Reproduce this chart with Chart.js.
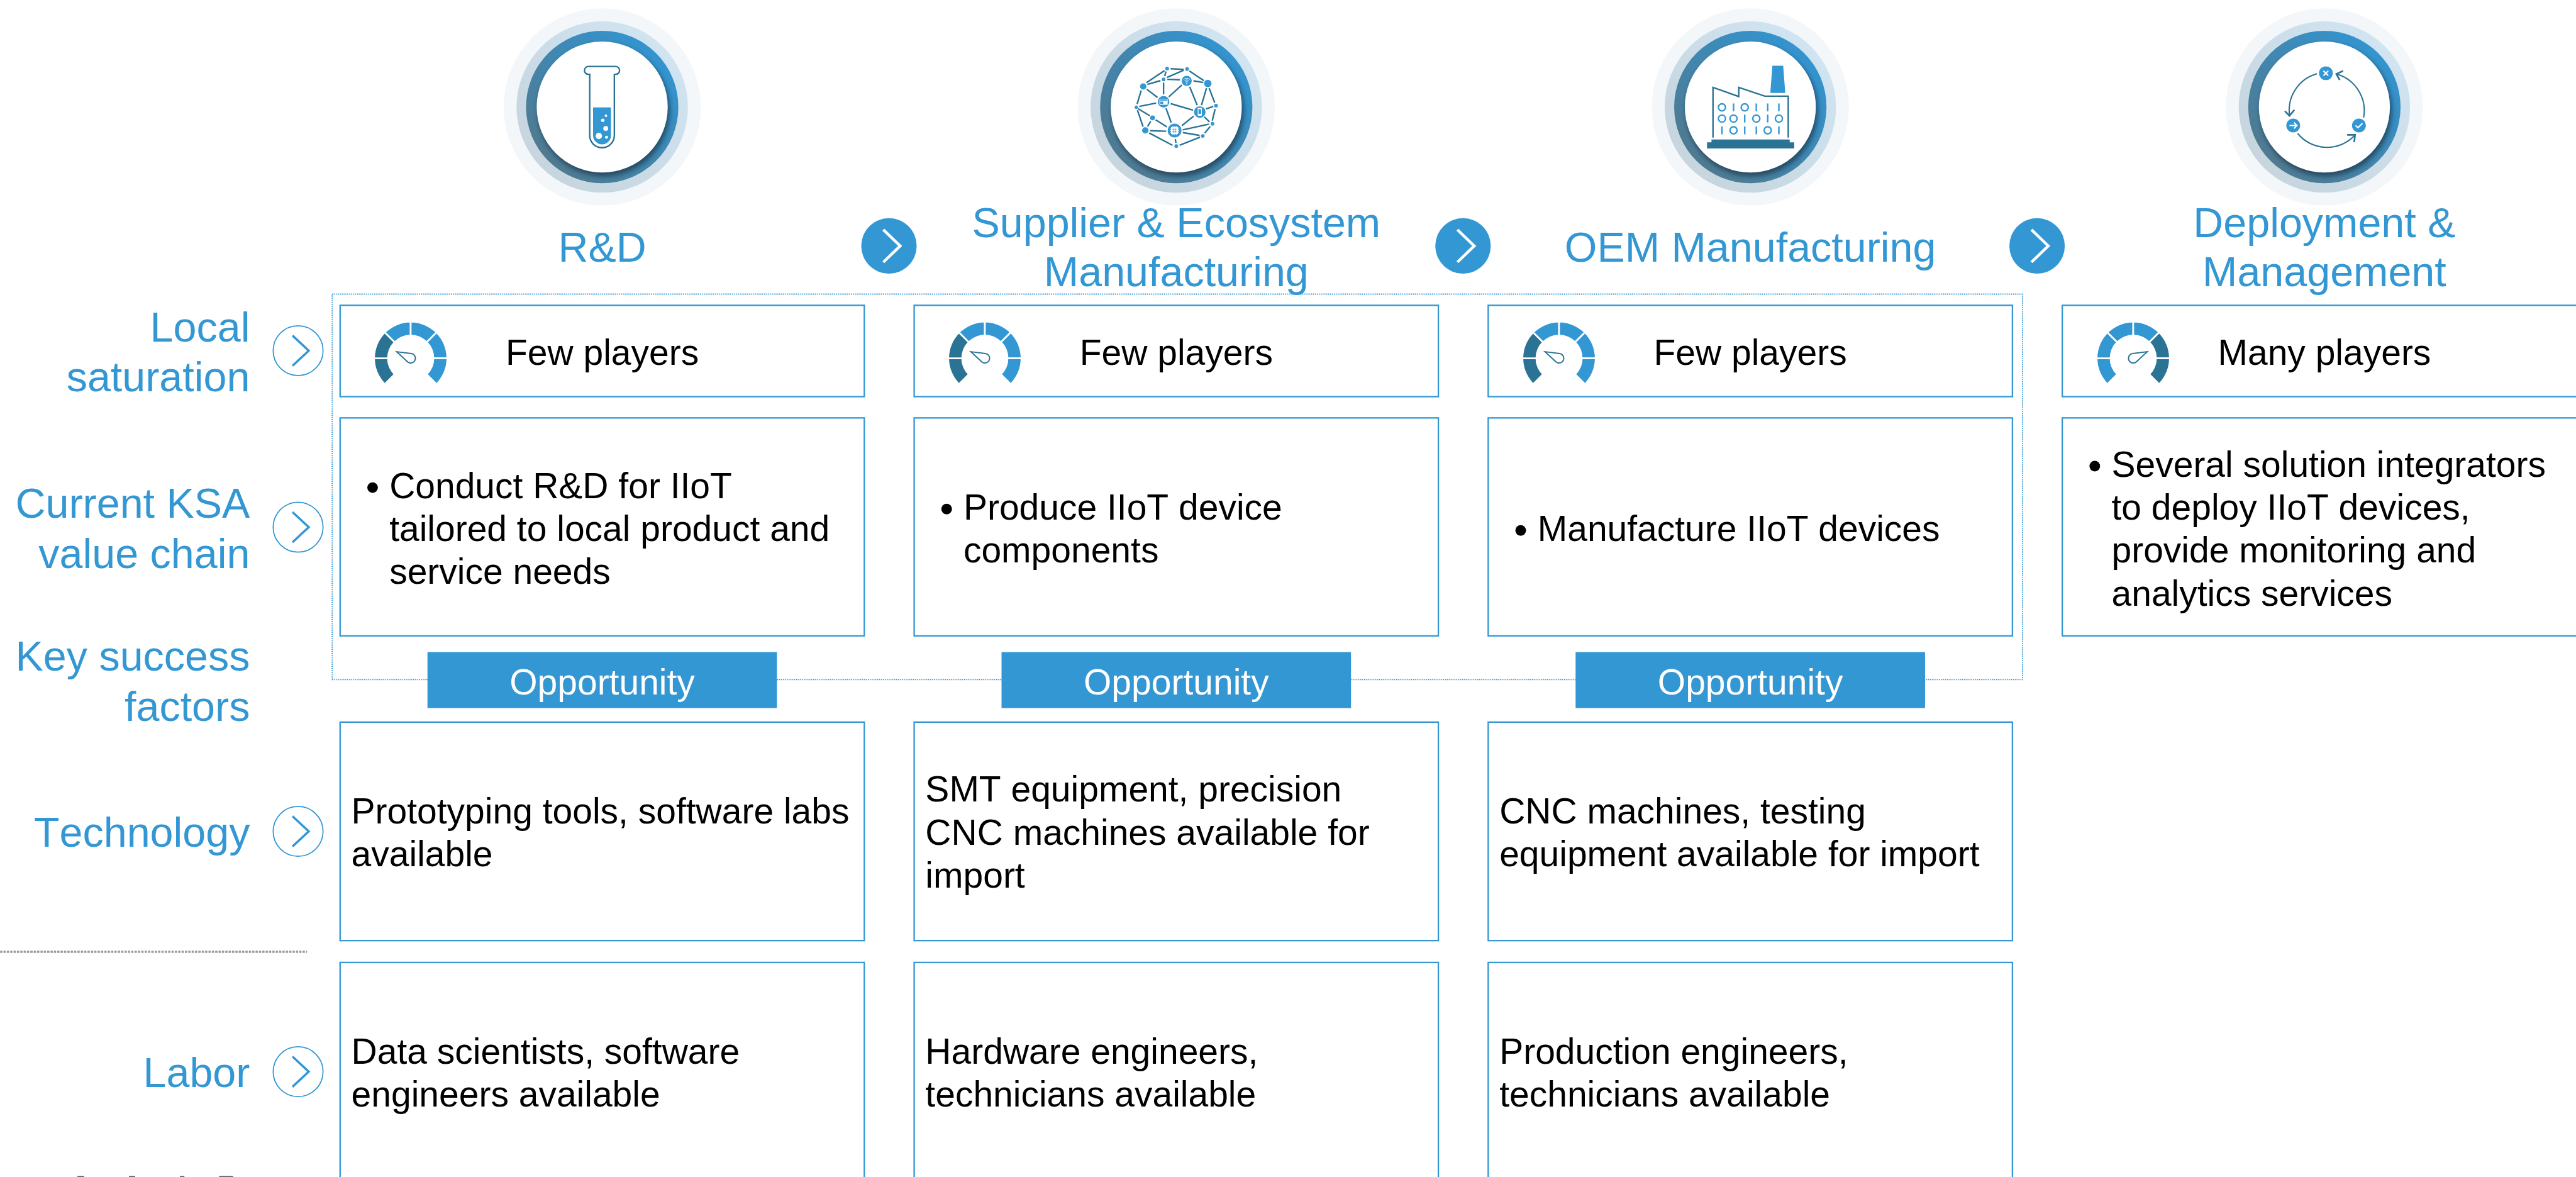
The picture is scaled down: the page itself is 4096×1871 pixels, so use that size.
<!DOCTYPE html>
<html>
<head>
<meta charset="utf-8">
<title>IIoT value chain</title>
<script src="https://cdn.jsdelivr.net/npm/chart.js@4/dist/chart.umd.min.js"></script>
<style>
html, body { margin: 0; padding: 0; background: #fff; overflow: hidden; }
#stage { position: relative; width: 4096px; height: 1871px; overflow: hidden; }
#art { position: absolute; left: 0; top: 0; }
canvas { position: absolute; }
text { font-family: "Liberation Sans", Arial, sans-serif; font-kerning: none; }
</style>
</head>
<body>
<div id="stage">
<svg id="art" width="4096" height="1871" viewBox="0 0 4599 2101" xmlns="http://www.w3.org/2000/svg"></svg>
</div>
<script>
// data
const stages = [['R&D'], ['Supplier & Ecosystem', 'Manufacturing'], ['OEM Manufacturing'], ['Deployment &', 'Management']];
const saturation = ['Few players', 'Few players', 'Few players', 'Many players'];
const gaugeSegments = [1, 1, 1, 1, 1, 1];
const gaugeDark = [[0, 1], [0, 1], [0, 1], [4, 5]];
const valueChain = [
    ['Conduct R&D for IIoT', 'tailored to local product and', 'service needs'],
    ['Produce IIoT device', 'components'],
    ['Manufacture IIoT devices'],
    ['Several solution integrators', 'to deploy IIoT devices,', 'provide monitoring and', 'analytics services']
];
const technology = [
    ['Prototyping tools, software labs', 'available'],
    ['SMT equipment, precision', 'CNC machines available for', 'import'],
    ['CNC machines, testing', 'equipment available for import']
];
const labor = [
    ['Data scientists, software', 'engineers available'],
    ['Hardware engineers,', 'technicians available'],
    ['Production engineers,', 'technicians available']
];
const rowLabels = [
    { lines: ['Local', 'saturation'], arrow: true, y: 626 },
    { lines: ['Current KSA', 'value chain'], arrow: true, y: 941 },
    { lines: ['Key success', 'factors'], arrow: false, y: 1214 },
    { lines: ['Technology'], arrow: true, y: 1484 },
    { lines: ['Labor'], arrow: true, y: 1913 }
];

const S = 4096 / 4599;
const BLUE = '#3397d4';
const DARK = '#2a7394';
const colLeft = [607, 1632, 2657, 3682];
const colCenter = colLeft.map(x => x + 468);
const boxW = 936;
const art = document.getElementById('art');
let svg = '';

function label(str, x, y, size, color, anchor) {
    const safe = str.replace(/&/g, '&amp;');
    svg += `<text x="${x}" y="${y}" font-size="${size}" fill="${color}" text-anchor="${anchor}">${safe}</text>`;
}

function box(x, y, w, h) {
    svg += `<rect x="${x}" y="${y}" width="${w}" height="${h}" fill="#fff" stroke="${BLUE}" stroke-width="2.6"/>`;
}

function block(lines, x, cy, anchor) {
    lines.forEach((l, i) => {
        label(l, x, cy + 24 + (i - (lines.length - 1) / 2) * 77, 64, '#000', anchor);
    });
}

function chevronCircle(cx, cy) {
    svg += `<circle cx="${cx}" cy="${cy}" r="44.5" fill="#fff" stroke="${BLUE}" stroke-width="2"/>`;
    svg += `<path d="M${cx - 10} ${cy - 27}L${cx + 19} ${cy}L${cx - 10} ${cy + 27}" fill="none" stroke="${BLUE}" stroke-width="4"/>`;
}

// icons use the coordinates of a 3x crop of the source, hence the scale
function icon(cropX, body) {
    svg += `<g transform="translate(${cropX} 0) scale(0.33333)">${body}</g>`;
}

function tubeIcon() {
    return `<g fill="none" stroke="${DARK}" stroke-width="8">
        <path d="M582 398H571a21 21 0 0 1 0-42H717a21 21 0 0 1 0 42H712"/>
        <path d="M578 396V725a66 66 0 0 0 132 0V396"/></g>
        <path d="M596 575H692V725a48 48 0 0 1-96 0Z" fill="${BLUE}"/>
        <g fill="#fff"><circle cx="665" cy="620" r="7"/><circle cx="648" cy="644" r="9"/><circle cx="664" cy="688" r="13"/><circle cx="627" cy="728" r="17"/><circle cx="668" cy="735" r="8"/></g>`;
}

function networkIcon() {
    const links = [[630,368,700,372],[700,376,610,415],[597,378,500,443],[605,383,598,408],[575,432,505,452],[612,425,680,427],
        [730,380,808,432],[752,433,805,442],[592,442,592,505],[502,478,560,522],[472,485,450,558],[462,570,552,552],
        [690,455,620,518],[732,465,772,563],[822,472,795,563],[836,472,866,550],[630,555,750,590],[605,580,633,657],
        [820,583,858,570],[868,584,853,646],[810,625,838,653],[753,622,690,673],[455,582,518,620],[452,590,482,678],
        [523,650,506,678],[550,642,610,680],[520,700,606,703],[695,695,835,665],[695,710,785,725],[842,677,812,713],
        [655,745,658,765],[515,712,640,778],[678,778,787,735]];
    const nodes = [[611,367,10],[718,370,10],[592,425,10],[716,433,27],[829,447,20],[483,463,17],[592,545,31],[446,574,9],
        [873,566,10],[786,600,31],[533,631,13],[854,663,10],[651,699,37],[494,698,17],[802,728,10],[660,782,10]];
    let out = `<path d="${links.map(l => `M${l[0]} ${l[1]}L${l[2]} ${l[3]}`).join('')}" stroke="${DARK}" stroke-width="8" fill="none"/>`;
    out += nodes.map(n => `<circle cx="${n[0]}" cy="${n[1]}" r="${n[2]}" fill="${BLUE}"/>`).join('');
    // little glyphs inside the big nodes
    out += `<rect x="632" y="680" width="38" height="38" rx="3" fill="#fff"/><rect x="640" y="688" width="22" height="22" fill="${BLUE}"/>
        <path d="M626 690H676M626 699H676M626 708H676M642 674V724M651 674V724M660 674V724" stroke="#fff" stroke-width="2.5"/>
        <rect x="775" y="578" width="22" height="42" rx="4" fill="#fff"/><rect x="779" y="584" width="14" height="26" fill="${BLUE}"/>
        <rect x="570" y="531" width="44" height="30" rx="3" fill="#fff"/><rect x="572" y="533" width="40" height="6" fill="${BLUE}"/>
        <path d="M574 544H590V556H574Z" fill="${BLUE}"/>
        <g fill="none" stroke="#fff" stroke-width="3"><path d="M699 426a24 24 0 0 1 34 0M704 433a16 16 0 0 1 24 0M709 440a9 9 0 0 1 14 0"/></g>
        <circle cx="716" cy="446" r="3" fill="#fff"/>`;
    return out;
}

function factoryIcon() {
    const bits = [[0, 1, 0, 1, 1, 1], [0, 0, 1, 0, 1, 0], [1, 0, 1, 1, 0, 1]];
    const rows = [575, 635, 698];
    const cols = [463, 525, 585, 647, 708, 768];
    let out = `<path d="M415 737V468L553 517V468L693 515H818V737" fill="none" stroke="${DARK}" stroke-width="8"/>
        <path d="M733 352H791L802 498H722Z" fill="${BLUE}"/>
        <path d="M407 747H826V762H850V795H383V762H407Z" fill="${DARK}"/>`;
    bits.forEach((row, r) => row.forEach((b, c) => {
        if (b) out += `<path d="M${cols[c]} ${rows[r] - 21}V${rows[r] + 21}" stroke="${BLUE}" stroke-width="8"/>`;
        else out += `<circle cx="${cols[c]}" cy="${rows[r]}" r="19" fill="none" stroke="${BLUE}" stroke-width="8"/>`;
    }));
    return out;
}

function cycleIcon() {
    return `<g fill="none" stroke="${DARK}" stroke-width="7">
        <path d="M590 395A203 203 0 0 0 443 615"/>
        <path d="M418 595L443 620L469 588" stroke-width="9"/>
        <path d="M840 630A203 203 0 0 0 695 397"/>
        <path d="M730 380L694 396L712 428" stroke-width="9"/>
        <path d="M487 715A203 203 0 0 0 792 725"/>
        <path d="M752 722L794 722L790 762" stroke-width="9"/></g>
        <g fill="${BLUE}"><circle cx="638" cy="392" r="37"/><circle cx="463" cy="672" r="37"/><circle cx="815" cy="672" r="37"/></g>
        <g fill="none" stroke="#fff" stroke-width="7"><path d="M625 379L651 405M651 379L625 405"/>
        <path d="M443 672H483M467 656L483 672L467 688"/>
        <path d="M797 672L810 684L834 660"/></g>`;
}

svg += `<defs>
<linearGradient id="ring2" x1="0.85" y1="0.15" x2="0.15" y2="0.85"><stop offset="0" stop-color="#d0e4f1"/><stop offset="1" stop-color="#c6d5de"/></linearGradient>
<linearGradient id="ring3" x1="0.85" y1="0.15" x2="0.15" y2="0.85"><stop offset="0" stop-color="#3394cf"/><stop offset="1" stop-color="#4f7a91"/></linearGradient>
<filter id="soft" x="-20%" y="-20%" width="140%" height="140%"><feGaussianBlur stdDeviation="4"/></filter>
</defs>`;

// dotted frame round the first two rows, dotted divider on the left
svg += `<rect x="593" y="525" width="3018" height="688" fill="none" stroke="${BLUE}" stroke-width="2.2" stroke-dasharray="1.684 1.684"/>`;
svg += `<path d="M0 1699H548" stroke="#9a9a9a" stroke-width="4" stroke-dasharray="4 2"/>`;
// tops of a row label that the source cuts off at its bottom edge
svg += `<path d="M138 2099h12v2h-12zM230 2099h11v2h-11zM321 2099h8v2h-8zM391 2099h25v2h-25z" fill="#666"/>`;

// header rings and icons
const icons = [[860, tubeIcon], [1880, networkIcon], [2920, factoryIcon], [3940, cycleIcon]];
colCenter.forEach((cx, i) => {
    const cy = 191;
    svg += `<circle cx="${cx}" cy="${cy}" r="176" fill="#f3f7fa"/>`;
    svg += `<circle cx="${cx}" cy="${cy}" r="153" fill="url(#ring2)"/>`;
    svg += `<circle cx="${cx}" cy="${cy}" r="136" fill="url(#ring3)"/>`;
    svg += `<circle cx="${cx + 3}" cy="${cy + 6}" r="118" fill="#123" opacity="0.55" filter="url(#soft)"/>`;
    svg += `<circle cx="${cx}" cy="${cy}" r="117" fill="#fff"/>`;
    icon(icons[i][0], icons[i][1]());
    const lines = stages[i];
    lines.forEach((l, n) => {
        label(l, cx, 467 + (n - (lines.length - 1) / 2) * 88, 74.6, BLUE, 'middle');
    });
});

// arrows between the stages
colLeft.slice(0, 3).forEach(x => {
    const cx = x + 980, cy = 439;
    svg += `<circle cx="${cx}" cy="${cy}" r="49.5" fill="${BLUE}"/>`;
    svg += `<path d="M${cx - 10} ${cy - 29}L${cx + 20} ${cy}L${cx - 10} ${cy + 29}" fill="none" stroke="#fff" stroke-width="5"/>`;
});

// row headings on the left
rowLabels.forEach(r => {
    r.lines.forEach((l, n) => {
        label(l, 446, r.y + 28 + (n - (r.lines.length - 1) / 2) * 89, 74.6, BLUE, 'end');
    });
    if (r.arrow) chevronCircle(532, r.y);
});

// saturation boxes, the gauges sit on top as charts
colLeft.forEach((x, i) => {
    box(x, 545, boxW, 163);
    label(saturation[i], colCenter[i], 651, 64, '#000', 'middle');
});

// value chain boxes
colLeft.forEach((x, i) => {
    box(x, 746, boxW, 389);
    const lines = valueChain[i];
    lines.forEach((l, n) => {
        const y = 942 + 24 + (n - (lines.length - 1) / 2) * 76.6;
        label(l, x + 88, y, 64, '#000', 'start');
        if (n === 0) svg += `<circle cx="${x + 58}" cy="${y - 19}" r="9.5" fill="#000"/>`;
    });
});

// opportunity tags, then the key success factor boxes
colLeft.slice(0, 3).forEach((x, i) => {
    svg += `<rect x="${x + 156}" y="1164" width="624" height="100" fill="${BLUE}"/>`;
    label('Opportunity', colCenter[i], 1240, 64, '#fff', 'middle');
    box(x, 1289, boxW, 390);
    block(technology[i], x + 20, 1484, 'start');
    box(x, 1718, boxW, 390);
    block(labor[i], x + 20, 1913, 'start');
});

art.innerHTML = svg;

// gauges: one doughnut per stage, six equal segments over 270 degrees
const needle = {
    id: 'needle',
    afterDatasetsDraw(chart, args, opts) {
        const arc = chart.getDatasetMeta(0).data[0];
        const ctx = chart.ctx;
        const k = S * opts.side;
        const r = 8.5 * S;
        const tx = -25 * k, ty = -11.7 * S;
        const d = Math.hypot(tx, ty);
        const a = Math.atan2(ty, tx);
        const b = Math.acos(r / d);
        ctx.save();
        ctx.translate(arc.x, arc.y);
        ctx.beginPath();
        ctx.moveTo(tx, ty);
        ctx.lineTo(r * Math.cos(a + b), r * Math.sin(a + b));
        ctx.arc(0, 0, r, a + b, a - b, false);
        ctx.closePath();
        ctx.lineWidth = 2;
        ctx.strokeStyle = DARK;
        ctx.lineJoin = 'miter';
        ctx.stroke();
        ctx.restore();
    }
};

colLeft.forEach((x, i) => {
    const cv = document.createElement('canvas');
    cv.width = 150;
    cv.height = 150;
    cv.style.width = '150px';
    cv.style.height = '150px';
    document.getElementById('stage').appendChild(cv);
    const chart = new Chart(cv.getContext('2d'), {
        type: 'doughnut',
        data: {
            labels: gaugeSegments.map((v, n) => 'segment ' + (n + 1)),
            datasets: [{
                data: gaugeSegments,
                backgroundColor: gaugeSegments.map((v, n) => gaugeDark[i].includes(n) ? DARK : BLUE),
                borderColor: '#fff',
                borderWidth: 2.7
            }]
        },
        options: {
            responsive: false,
            animation: false,
            events: [],
            rotation: -135,
            circumference: 270,
            radius: 58.3,
            cutout: '61.9%',
            plugins: {
                legend: { display: false },
                tooltip: { enabled: false },
                needle: { side: gaugeDark[i][0] === 0 ? 1 : -1 }
            }
        },
        plugins: [needle]
    });
    const arc = chart.getDatasetMeta(0).data[0];
    cv.style.left = Math.round((x + 126) * S - arc.x) + 'px';
    cv.style.top = Math.round(640 * S - arc.y) + 'px';
});
</script>
</body>
</html>
